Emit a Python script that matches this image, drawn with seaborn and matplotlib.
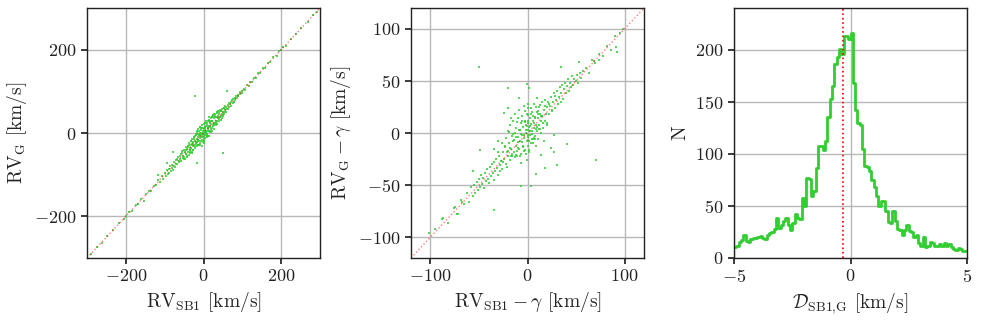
import numpy as np
import pandas as pd
import matplotlib
matplotlib.use('Agg')
import matplotlib.pyplot as plt
import seaborn as sns

# Panel 1: RV_SB1 vs RV_G (km/s)
rv_sb1 = [
    -290, -275, -262, -248, -232, -218, -205, -200, -192, -184, -175, -168, -160, -153, -148, -140, -135, -128, -122, -118, -113, -108, -104,
    -100, -97, -94, -92, -90, -88, -85, -83, -81, -80, -78, -76, -75, -73, -71, -70, -68, -67, -65, -64, -62, -61, -60,
    -58, -57, -55, -54, -52, -51, -50, -48, -47, -45, -44, -43, -42, -40, -39, -38, -37, -36, -35, -34, -33, -32, -31, -30, -29, -28, -27, -26, -25, -24, -23, -22, -21, -20,
    -19, -18, -18, -17, -16, -15, -15, -14, -13, -12, -12, -11, -10, -10, -9, -8, -8, -7, -6, -6, -5, -4, -4, -3, -2, -2, -1, 0, 0, 0,
    1, 1, 2, 3, 3, 4, 5, 5, 6, 7, 7, 8, 9, 9, 10, 11, 11, 12, 13, 14, 15, 15, 16, 17, 18, 19, 20, 20,
    21, 22, 23, 24, 25, 26, 27, 28, 29, 30, 31, 32, 33, 34, 35, 36, 37, 38, 39, 40, 41, 42, 43, 44, 45, 46, 47, 48, 49, 50, 52, 53, 55, 56, 57, 58, 60,
    62, 63, 65, 66, 68, 70, 71, 73, 75, 77, 78, 80, 82, 84, 86, 88, 90, 93, 95, 98, 100,
    104, 108, 112, 116, 120, 125, 130, 135, 140, 146, 152, 158, 165, 172, 180, 188, 195, 200, 205, 212, 225, 238, 252, 268, 282, 292,
    -23, 50, -17, -78, -94, 60, -117,
    -55, -50, -46, -42, -38, -35, -32, -30, -27, -25, -22, -20, -18, -16, -14, -12, -10, -8, -6, -4, -3, -1, 1, 2, 4,
    6, 8, 10, 12, 14, 16, 18, 20, 22, 24, 26, 28, 30, 33, 36, 40, 44, 48, 52, 56,
    -45, -40, -36, -30, -26, -24, -20, -17, -14, -11, -9, -7, -5, -2, 0, 3, 5, 7, 9, 11,
    13, 15, 17, 19, 21, 23, 25, 27, 30, 32, 35, 38, 42, 45, 50,
]
rv_g = [
    -290, -274, -263, -247, -233, -217, -206, -199, -190, -186, -173, -170, -158, -162, -146, -138, -140, -126, -125, -112, -117, -104, -110,
    -95, -104, -88, -99, -86, -95, -80, -90, -77, -84, -88, -70, -79, -82, -64, -74, -62, -75, -58, -70, -67, -54, -63,
    -50, -66, -42, -60, -55, -40, -58, -45, -62, -33, -50, -38, -55, -30, -45, -52, -24, -40, -35, -48, -20, -36, -28, -45, -15, -32, -22, -40, -10, -28, -18, -35, -8, -25,
    -5, -30, -14, 2, -22, -9, 10, -28, -16, -2, 5, -20, -8, 15, -12, 0, -25, 8, -5, -18, 12, -2, 20, -10, 4, -22, -6, 10, -3, -15,
    22, 5, -8, 14, 0, -12, 8, 25, -4, 16, 2, -10, 20, 6, -2, 28, 12, -6, 18, 4, 30, -8, 14, 24, 2, 35, 10, 22,
    38, 12, 28, 18, 40, 22, 10, 35, 25, 45, 20, 38, 28, 48, 30, 22, 42, 35, 50, 28, 45, 38, 55, 40, 32, 52, 45, 58, 40, 50, 60, 45, 55, 65, 50, 62, 58,
    68, 58, 72, 62, 70, 75, 66, 80, 72, 82, 74, 85, 80, 90, 84, 92, 88, 98, 93, 102, 97,
    106, 104, 115, 112, 123, 122, 133, 131, 143, 144, 155, 156, 167, 170, 183, 186, 197, 199, 206, 210, 226, 237, 253, 267, 283, 291,
    90, -48, -72, -46, -72, 100, -100,
    -47, -62, -41, -57, -28, -41, -20, -48, -23, -10, -32, -2, -22, 6, -28, -4, 15, -28, 0, -32, 13, -9, 13, -20, 24,
    0, -8, 24, 9, 38, 4, 26, 2, 38, 19, 46, 20, 42, 23, 51, 34, 54, 36, 60, 51,
    -50, -34, -45, -27, -40, -15, -27, -3, -16, -28, -4, 12, -16, 0, -24, 13, 1, 28, -4, 14,
    6, 32, 16, 30, 6, 29, 43, 23, 39, 23, 39, 52, 39, 52, 44,
]

# Panel 2: RV_SB1 - gamma vs RV_G - gamma (km/s)
rv_sb1_rel = [
    -101, -95, -88, -82, -76, -72, -68, -65, -62, -60, -58, -56,
    -55, -54, -52, -51, -50, -49, -48, -47, -46, -45, -44, -43, -42, -41, -40, -39, -38, -37, -36, -35, -34, -33, -32, -31, -30, -29, -28, -27, -26, -25,
    -24, -23, -22, -22, -21, -20, -20, -19, -18, -18, -17, -16, -16, -15, -15, -14, -13, -13, -12, -12, -11, -10, -10, -9, -9, -8, -8, -7, -7, -6,
    -6, -5, -5, -4, -4, -3, -3, -2, -2, -1, -1, 0, 0, 0, 1, 1, 2, 2, 3, 3, 4, 4, 5, 5, 6, 6, 7, 7, 8, 8,
    9, 9, 10, 10, 11, 11, 12, 12, 13, 14, 14, 15, 15, 16, 17, 18, 18, 19, 20, 20,
    21, 22, 23, 24, 25, 26, 27, 28, 29, 30, 31, 32, 33, 34, 35, 36, 37, 38, 39, 40, 41, 42, 43, 44, 45, 46, 47, 48, 50, 51, 52, 54, 55, 57,
    60, 63, 66, 70, 74, 78, 82, 86, 90, 95, 98,
    -50, 71, -34, 92, 91, 74, -87, -75, -73, -67, -56, -49, -20, -1, 2, 10, -9, 35, 53, 68,
    41, 27, 30, 18, 9, 4, -7, -1, 27, -20, -24, -17, 24, 17, 14, -30, -35,
    -30, -28, -26, -25, -23, -21, -19, -18, -16, -15, -13, -12, -11, -10, -9, -8, -7, -6, -5, -4, -3, -2,
    -1, 0, 1, 2, 3, 4, 5, 6, 7, 8, 9, 10, 11, 12, 13, 14, 16, 18, 20, 22, 25, 28,
    -20, -17, -14, -12, -10, -8, -6, -4, -2, 0, 1, 3, 5, 7, 9, 11, 13, 15, -3, 2, 6, -7, 4, 8, -11, 0,
]
rv_g_rel = [
    -96, -92, -83, -86, -72, -78, -64, -68, -58, -66, -52, -60,
    -50, -58, -47, -55, -44, -52, -40, -49, -43, -53, -38, -46, -35, -44, -48, -33, -41, -30, -38, -45, -28, -36, -25, -34, -40, -22, -31, -27, -35, -18,
    -25, -12, -30, -5, -18, -22, 2, -10, -26, 8, -15, -3, -20, 12, -8, -18, 0, 18, -12, 5, -22, -4, 14, -15, 22, 3, -8, 10, -20, -2,
    16, -12, 6, 26, -5, 12, -16, 0, 8, -8, 18, 3, -12, 12, -4, 24, 6, -16, 14, -2, 9, -10, 20, 2, -6, 12, 28, 5, -3, 15,
    8, -12, 20, 2, 14, -6, 25, 8, 18, 0, 12, 30, 16, 5, 22, 12, 32, 18, 25, 8,
    30, 18, 26, 35, 22, 30, 38, 24, 32, 40, 28, 35, 44, 30, 38, 46, 33, 42, 48, 38, 45, 52, 40, 48, 44, 55, 46, 52, 50, 56, 48, 58, 53, 60,
    62, 58, 70, 67, 76, 74, 84, 80, 93, 96, 100,
    63, -26, -74, 78, 83, 70, -82, -71, -78, -66, -36, -16, 43, 47, 43, 34, 34, 63, 68, 69,
    -11, -2, -31, -34, -39, -51, -51, -26, -18, 24, 19, 14, -14, -8, -21, -8, -15,
    -18, -36, -10, -28, -13, -33, 1, -14, -22, -1, -23, -4, 11, -14, 3, -22, -1, 12, -13, -2, 11, -20,
    7, -2, 17, -8, 7, 24, -1, 16, -5, 14, 25, 6, 21, 4, 27, 16, 10, 26, 10, 28, 21, 36,
    -17, -22, -7, -21, -9, 3, -9, -17, 3, -7, 10, 2, -6, 10, 4, 18, 4, 16, 21, -18, -10, -29, 18, -6, -17, 28,
]

# Panel 3: histogram of D_SB1,G, 0.1 km/s bins from -5 to 5
hist_counts = [
    11, 12, 15, 17, 22, 16, 15, 18, 19, 19,
    20, 21, 19, 18, 22, 24, 25, 28, 38, 29,
    32, 36, 38, 32, 27, 34, 42, 38, 37, 58,
    50, 77, 76, 60, 64, 86, 108, 108, 104, 112,
    135, 153, 165, 186, 193, 201, 196, 213, 213, 210,
    216, 168, 142, 130, 128, 105, 88, 87, 84, 75,
    68, 60, 50, 55, 55, 45, 35, 34, 45, 36,
    28, 27, 22, 27, 32, 26, 25, 20, 22, 14,
    12, 20, 11, 12, 15, 14, 12, 12, 13, 12,
    14, 12, 13, 11, 9, 8, 10, 9, 7, 7,
]
hist_range = (-5, 5)
hist_binwidth = 0.1
median_offset = -0.31

GREEN = '#32cd32'


def rv_axes(ax, x, y, lim, ticks, xlabel, ylabel):
    """Scatter of two RV sets with the 1:1 line"""
    sns.scatterplot(x=x, y=y, ax=ax, color=GREEN, s=4, linewidth=0, alpha=0.8, marker='s')
    ax.plot([-lim, lim], [-lim, lim], ls=':', color='red', lw=1, alpha=0.5)
    ax.set_xlim(-lim, lim)
    ax.set_ylim(-lim, lim)
    ax.set_xticks(ticks[0])
    ax.set_yticks(ticks[1])
    ax.set_xlabel(xlabel)
    ax.set_ylabel(ylabel)


def main():
    sns.set_theme(style='whitegrid', rc={
        'axes.edgecolor': '#222222',
        'axes.linewidth': 1.0,
        'grid.color': '#b8b8b8',
        'grid.linewidth': 1.0,
        'xtick.bottom': True,
        'ytick.left': True,
        'xtick.color': '#222222',
        'ytick.color': '#222222',
        'xtick.major.size': 4,
        'ytick.major.size': 4,
    })
    plt.rcParams['font.family'] = 'cmr10'
    plt.rcParams['mathtext.fontset'] = 'cm'
    plt.rcParams['axes.formatter.use_mathtext'] = True
    plt.rcParams['font.size'] = 13
    plt.rcParams['axes.labelsize'] = 14
    plt.rcParams['xtick.labelsize'] = 13
    plt.rcParams['ytick.labelsize'] = 13

    fig = plt.figure(figsize=(9.81, 3.2), dpi=100)
    w, h, b = 233 / 981, 250 / 320, 62 / 320
    ax1 = fig.add_axes([87 / 981, b, w, h])
    ax2 = fig.add_axes([411 / 981, b, w, h])
    ax3 = fig.add_axes([734 / 981, b, w, h])

    rv_axes(ax1, rv_sb1, rv_g, 300, ([-200, 0, 200], [-200, 0, 200]),
            r'$\mathrm{RV}_\mathrm{SB1}$ [km/s]', r'$\mathrm{RV}_\mathrm{G}$ [km/s]')
    rv_axes(ax2, rv_sb1_rel, rv_g_rel, 120, ([-100, 0, 100], [-100, -50, 0, 50, 100]),
            r'$\mathrm{RV}_\mathrm{SB1}-\gamma$ [km/s]', r'$\mathrm{RV}_\mathrm{G}-\gamma$ [km/s]')

    # histogram of the differences, one weighted entry per bin centre
    lo = hist_range[0]
    centers = [lo + hist_binwidth * (i + 0.5) for i in range(len(hist_counts))]
    hist_df = pd.DataFrame({'d': centers, 'n': hist_counts})
    sns.histplot(data=hist_df, x='d', weights='n', binwidth=hist_binwidth, binrange=hist_range,
                 element='step', fill=False, color=GREEN, linewidth=2, ax=ax3)
    ax3.axvline(median_offset, color='red', ls=':', lw=1.2)
    ax3.set_xlim(*hist_range)
    ax3.set_ylim(0, 240)
    ax3.set_xticks([-5, 0, 5])
    ax3.set_yticks([0, 50, 100, 150, 200])
    ax3.set_xlabel(r'$\mathcal{D}_\mathrm{SB1{,}G}$ [km/s]')
    ax3.set_ylabel('N')

    fig.savefig('out.png', dpi=100)


if __name__ == "__main__":
    main()
